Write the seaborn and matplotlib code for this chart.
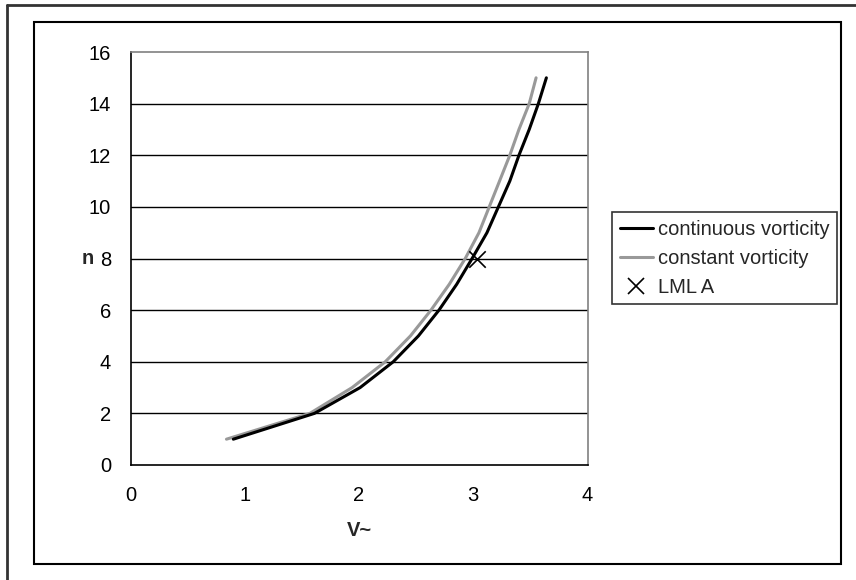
import matplotlib
matplotlib.use("Agg")
import matplotlib.pyplot as plt
import seaborn as sns
import pandas as pd
from matplotlib.lines import Line2D
from matplotlib.patches import Rectangle

# data
n_values = [1, 2, 3, 4, 5, 6, 7, 8, 9, 10, 11, 12, 13, 14, 15]
v_continuous = [0.90, 1.61, 2.01, 2.30, 2.52, 2.70, 2.855, 2.99, 3.12, 3.22, 3.32, 3.40, 3.49, 3.57, 3.64]
v_constant = [0.84, 1.57, 1.94, 2.23, 2.45, 2.63, 2.79, 2.93, 3.05, 3.14, 3.23, 3.32, 3.40, 3.49, 3.55]
lml_v = [3.03]
lml_n = [8]
x_ticks = [0, 1, 2, 3, 4]
y_ticks = [0, 2, 4, 6, 8, 10, 12, 14, 16]

sns.set_style("white")
plt.rcParams['font.family'] = ['Liberation Sans', 'DejaVu Sans']

W, H = 856, 580
fig = plt.figure(figsize=(W / 100, H / 100), dpi=100)

def fx(px):
    return px / W

def fy(py):
    return 1 - py / H

# outer frame lines (top and left)
fig.add_artist(Line2D([fx(7.5), 1.0], [fy(4.5), fy(4.5)], color="#333333", lw=2.0, transform=fig.transFigure))
fig.add_artist(Line2D([fx(7.5), fx(7.5)], [fy(4.5), 0.0], color="#333333", lw=2.0, transform=fig.transFigure))
# inner chart area border
fig.add_artist(Rectangle((fx(34), fy(564)), fx(841) - fx(34), fy(22) - fy(564),
                         fill=False, edgecolor="black", lw=1.5, transform=fig.transFigure))

left, right, top, bottom = 130.5, 587.5, 52, 465
ax = fig.add_axes([fx(left), fy(bottom), fx(right) - fx(left), fy(top) - fy(bottom)])

df_cont = pd.DataFrame({"V": v_continuous, "n": n_values})
df_const = pd.DataFrame({"V": v_constant, "n": n_values})
df_lml = pd.DataFrame({"V": lml_v, "n": lml_n})

for y in y_ticks[1:-1]:
    ax.axhline(y, color="black", lw=1.0, zorder=1)

sns.lineplot(data=df_const, x="V", y="n", sort=False, color="#999999", lw=2.2, ax=ax, zorder=3,
             label="constant vorticity")
sns.lineplot(data=df_cont, x="V", y="n", sort=False, color="black", lw=2.2, ax=ax, zorder=4,
             label="continuous vorticity")
sns.scatterplot(data=df_lml, x="V", y="n", marker="x", color="black", s=140, linewidth=1.2, ax=ax,
                zorder=5, label="LML A")

ax.set_xlim(0, 4)
ax.set_ylim(0, 16)
ax.set_xticks(x_ticks)
ax.set_yticks(y_ticks)
ax.tick_params(axis="both", direction="out", length=6, width=1.0, colors="black", labelsize=14.5, pad=8)
ax.tick_params(axis="x", pad=9)

for side in ["top", "right"]:
    ax.spines[side].set_color("#808080")
    ax.spines[side].set_linewidth(1.2)
for side in ["left", "bottom"]:
    ax.spines[side].set_color("black")
    ax.spines[side].set_linewidth(1.2)

ax.set_xlabel("V~", fontsize=14.5, fontweight="bold", labelpad=12)
ax.set_ylabel("n", fontsize=14.5, fontweight="bold", rotation=0, va="center", ha="center")
ax.yaxis.set_label_coords(fx(88), fy(258), transform=fig.transFigure)

handles = [
    Line2D([0], [0], color="black", lw=2.2),
    Line2D([0], [0], color="#999999", lw=2.2),
    Line2D([0], [0], color="black", marker="x", markersize=11, markeredgewidth=1.2, lw=0),
]
labels = ["continuous vorticity", "constant vorticity", "LML A"]
leg = ax.legend(handles, labels, loc="upper left",
                bbox_to_anchor=(fx(612), fy(212)), bbox_transform=fig.transFigure,
                frameon=True, fancybox=False, fontsize=14.5, handlelength=1.65,
                handletextpad=0.25, borderpad=0.38, labelspacing=0.5, borderaxespad=0)
leg.get_frame().set_edgecolor("black")
leg.get_frame().set_linewidth(1.2)

fig.savefig("out.png", dpi=100)
